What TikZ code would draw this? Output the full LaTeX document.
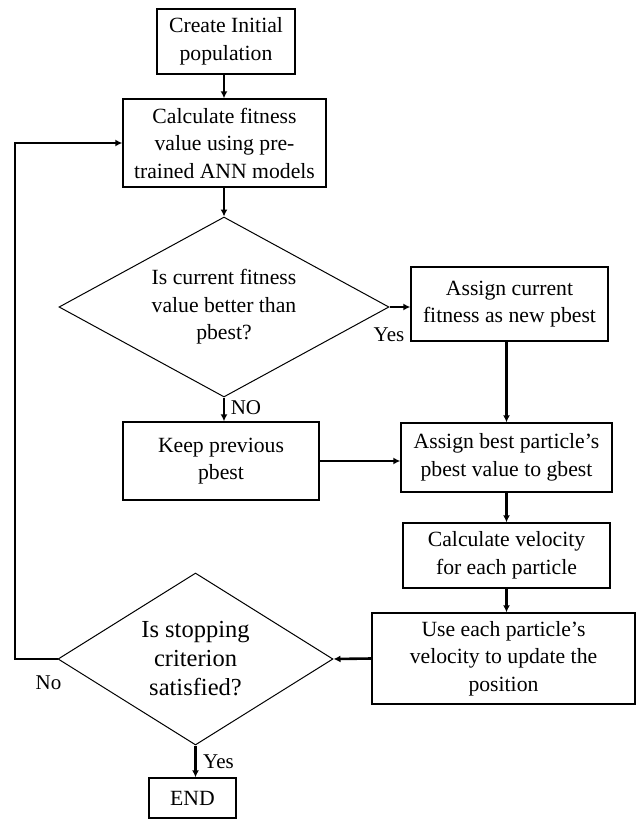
\documentclass[tikz,border=0pt]{standalone}
\usepackage{fontspec}
\setmainfont{Liberation Serif}
\usetikzlibrary{shapes.geometric,arrows.meta}
\tikzset{
  box/.style={draw, line width=1.4pt, inner sep=0pt, align=center,
    font=\fontsize{21.7}{27.5}\selectfont},
  dia/.style={draw, shape=diamond, line width=1pt, inner sep=0pt, align=center, aspect=1.8},
  conn/.style={line width=2.6pt, -{Latex[length=7pt,width=7pt]}},
  lbl/.style={font=\fontsize{21}{25}\selectfont, inner sep=0pt}
}
\begin{document}
\begin{tikzpicture}[x=1pt,y=-1pt]
\useasboundingbox (0,0) rectangle (636,820);
\node[box, minimum width=138pt, minimum height=65pt] (init) at (226,41.5) {Create Initial\\population};
\node[box, minimum width=203pt, minimum height=88pt] (fit) at (224.5,143) {Calculate fitness\\value using pre-\\trained ANN models};
\node[dia, minimum width=330pt, minimum height=180pt, font=\fontsize{21.7}{27.5}\selectfont] (d1) at (224,307) {Is current fitness\\value better than\\pbest?};
\node[box, minimum width=197pt, minimum height=74pt] (ac) at (509.5,304) {Assign current\\fitness as new pbest};
\node[box, minimum width=196pt, minimum height=78pt] (keep) at (221,461) {Keep previous\\pbest};
\node[box, minimum width=211pt, minimum height=69pt] (ab) at (506.5,457.5) {Assign best particle’s\\pbest value to gbest};
\node[box, minimum width=207pt, minimum height=65pt] (vel) at (506.5,555.5) {Calculate velocity\\for each particle};
\node[box, minimum width=263pt, minimum height=91pt] (use) at (503.5,658.5) {Use each particle’s\\velocity to update the\\position};
\node[dia, minimum width=275pt, minimum height=172pt, font=\fontsize{24.5}{29}\selectfont] (d2) at (195.5,659) {Is stopping\\criterion\\satisfied?};
\node[box, minimum width=87pt, minimum height=40pt] (end) at (192.5,798) {END};
\coordinate (lp) at (15,659);

\draw[conn] (init.south -| 224,0) -- (fit.north -| 224,0);
\draw[conn] (fit.south -| d1.north) -- (d1.north);
\draw[conn] (d1.east) -- (ac.west |- d1.east);
\draw[conn] (d1.south) -- (d1.south |- keep.north);
\draw[conn] (ab.north |- ac.south) -- (ab.north);
\draw[conn] (keep.east) -- (keep.east -| ab.west);
\draw[conn] (ab.south) -- (vel.north);
\draw[conn] (vel.south) -- (vel.south |- use.north);
\draw[conn] (use.west) -- (d2.east);
\draw[conn] (d2.west) -- (lp) |- (fit.west);
\draw[conn] (d2.south) -- (d2.south |- end.north);

\node[lbl] (yes1) at (389,335) {Yes};
\node[lbl] (no1) at (246,408) {NO};
\node[lbl] (no2) at (48.5,683) {No};
\node[lbl] (yes2) at (218.5,762) {Yes};
\end{tikzpicture}
\end{document}
